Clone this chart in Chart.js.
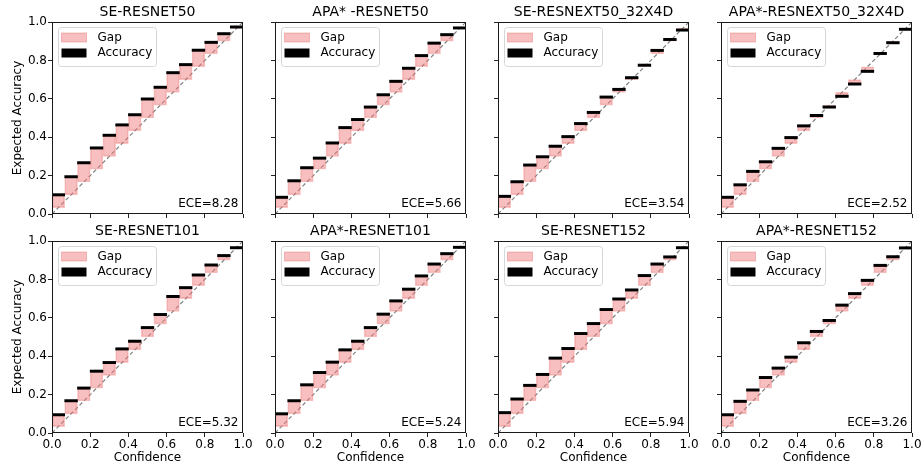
<!DOCTYPE html>
<html>
<head>
<meta charset="utf-8">
<script src="https://cdn.jsdelivr.net/npm/chart.js@4.4.0/dist/chart.umd.min.js"></script>
<style>
  html, body { margin: 0; padding: 0; background: #fff; overflow: hidden; }
  #wrap { position: relative; width: 923px; height: 468px; }
  canvas { position: absolute; }
</style>
</head>
<body>
<div id="wrap"></div>
<script>
// 15 confidence bins
const binCenters = [0.0333, 0.1, 0.1667, 0.2333, 0.3, 0.3667, 0.4333, 0.5, 0.5667, 0.6333, 0.7, 0.7667, 0.8333, 0.9, 0.9667];

const titles = ['SE-RESNET50', 'APA* -RESNET50', 'SE-RESNEXT50_32X4D', 'APA*-RESNEXT50_32X4D',
                'SE-RESNET101', 'APA*-RESNET101', 'SE-RESNET152', 'APA*-RESNET152'];
const eceValues = ['8.28', '5.66', '3.54', '2.52', '5.32', '5.24', '5.94', '3.26'];

// accuracy per bin
const accSeResnet50      = [0.100, 0.194, 0.267, 0.344, 0.410, 0.464, 0.517, 0.599, 0.660, 0.736, 0.778, 0.853, 0.894, 0.939, 0.974];
const accApaResnet50     = [0.087, 0.173, 0.241, 0.291, 0.370, 0.450, 0.492, 0.557, 0.621, 0.691, 0.759, 0.825, 0.890, 0.934, 0.969];
const accSeResnext50     = [0.092, 0.168, 0.255, 0.298, 0.353, 0.403, 0.471, 0.529, 0.609, 0.649, 0.710, 0.775, 0.852, 0.909, 0.958];
const accApaResnext50    = [0.087, 0.152, 0.222, 0.272, 0.342, 0.398, 0.459, 0.513, 0.557, 0.613, 0.677, 0.743, 0.836, 0.892, 0.962];
const accSeResnet101     = [0.095, 0.168, 0.234, 0.322, 0.367, 0.438, 0.478, 0.549, 0.617, 0.711, 0.757, 0.823, 0.875, 0.924, 0.965];
const accApaResnet101    = [0.100, 0.168, 0.251, 0.315, 0.369, 0.433, 0.478, 0.549, 0.619, 0.688, 0.749, 0.818, 0.880, 0.934, 0.967];
const accSeResnet152     = [0.106, 0.177, 0.248, 0.305, 0.390, 0.440, 0.518, 0.570, 0.643, 0.698, 0.745, 0.820, 0.880, 0.917, 0.965];
const accApaResnet152    = [0.095, 0.165, 0.224, 0.289, 0.338, 0.395, 0.470, 0.529, 0.586, 0.666, 0.726, 0.795, 0.873, 0.918, 0.964];

const accuracies = [accSeResnet50, accApaResnet50, accSeResnext50, accApaResnext50,
                    accSeResnet101, accApaResnet101, accSeResnet152, accApaResnet152];

// layout of the 2x4 grid (plot area corners)
const plotLeft = [52, 275, 498, 721];
const plotTop = [22, 241];
const PW = 191, PH = 192;
const ML = 50, MT = 22, MR = 12, MB = 34;

const GAP_FILL = 'rgba(240,128,128,0.5)';
const GAP_EDGE = 'rgba(230,90,90,0.35)';

Chart.defaults.font.family = '"DejaVu Sans", sans-serif';
Chart.defaults.font.size = 12;
Chart.defaults.color = '#000';

// axes frame, legend box and ECE label
const panelDecor = {
  id: 'panelDecor',
  afterDatasetsDraw(chart, args, opts) {
    const { ctx, chartArea: a } = chart;
    ctx.save();
    ctx.strokeStyle = '#1a1a1a';
    ctx.lineWidth = 1;
    ctx.strokeRect(a.left + 0.5, a.top + 0.5, a.width - 1, a.height - 1);

    const lx = a.left + 6, ly = a.top + 5;
    ctx.beginPath();
    if (ctx.roundRect) ctx.roundRect(lx + 0.5, ly + 0.5, 98, 39, 3);
    else ctx.rect(lx + 0.5, ly + 0.5, 98, 39);
    ctx.fillStyle = 'rgba(255,255,255,0.8)';
    ctx.fill();
    ctx.strokeStyle = '#d6d6d6';
    ctx.stroke();

    ctx.fillStyle = GAP_FILL;
    ctx.fillRect(lx + 3.5, ly + 6, 25, 9);
    ctx.strokeStyle = GAP_EDGE;
    ctx.strokeRect(lx + 3.5, ly + 6, 25, 9);
    ctx.fillStyle = '#000';
    ctx.fillRect(lx + 3.5, ly + 21.5, 25, 9);

    ctx.font = '12px "DejaVu Sans"';
    ctx.textAlign = 'left';
    ctx.textBaseline = 'middle';
    ctx.fillText('Gap', lx + 39.5, ly + 10.5);
    ctx.fillText('Accuracy', lx + 39.5, ly + 26);

    ctx.textAlign = 'right';
    ctx.fillText('ECE=' + opts.ece, a.right - 4.5, a.bottom - 10);
    ctx.restore();
  }
};

const wrap = document.getElementById('wrap');

titles.forEach((title, i) => {
  const col = i % 4, row = Math.floor(i / 4);
  const showX = row === 1, showY = col === 0;
  const acc = accuracies[i];

  const canvas = document.createElement('canvas');
  canvas.width = ML + PW + MR;
  canvas.height = MT + PH + MB;
  canvas.style.left = (plotLeft[col] - ML) + 'px';
  canvas.style.top = (plotTop[row] - MT) + 'px';
  wrap.appendChild(canvas);

  new Chart(canvas.getContext('2d'), {
    type: 'bar',
    data: {
      datasets: [{
        type: 'line',
        label: 'diagonal',
        order: 3,
        data: [{ x: 0, y: 0 }, { x: 1, y: 1 }],
        borderColor: '#808080',
        borderWidth: 1.2,
        borderDash: [4, 2.5],
        pointRadius: 0,
        fill: false
      }, {
        label: 'Gap',
        order: 2,
        data: binCenters.map((c, k) => ({ x: c, y: [c, acc[k]] })),
        backgroundColor: GAP_FILL,
        borderColor: GAP_EDGE,
        borderWidth: 1,
        borderSkipped: false,
        grouped: false,
        barPercentage: 1,
        categoryPercentage: 1
      }, {
        label: 'Accuracy',
        order: 1,
        data: binCenters.map((c, k) => ({ x: c, y: [acc[k] - 0.006, acc[k] + 0.006] })),
        backgroundColor: '#000',
        borderWidth: 0,
        grouped: false,
        barPercentage: 1,
        categoryPercentage: 1
      }]
    },
    options: {
      responsive: false,
      animation: false,
      devicePixelRatio: 1,
      layout: { padding: { left: 0, right: MR, top: 0, bottom: 0 } },
      plugins: {
        legend: { display: false },
        tooltip: { enabled: false },
        title: {
          display: true,
          text: title,
          fullSize: false,
          font: { size: 14, weight: 'normal' },
          color: '#000',
          padding: { top: 4, bottom: 1.2 }
        },
        panelDecor: { ece: eceValues[i] }
      },
      scales: {
        x: {
          type: 'linear',
          min: 0,
          max: 1,
          offset: false,
          grid: { offset: false, drawOnChartArea: false, tickLength: 4, color: '#222' },
          border: { display: false },
          ticks: {
            stepSize: 0.2,
            padding: 1,
            autoSkip: false,
            maxRotation: 0,
            callback: v => showX ? v.toFixed(1) : ''
          },
          title: { display: showX, text: 'Confidence', padding: { top: 0, bottom: 2 } },
          afterFit: s => { s.height = MB; }
        },
        y: {
          type: 'linear',
          min: 0,
          max: 1,
          grid: { drawOnChartArea: false, tickLength: 4, color: '#222' },
          border: { display: false },
          ticks: {
            stepSize: 0.2,
            padding: 1,
            autoSkip: false,
            callback: v => showY ? v.toFixed(1) : ''
          },
          title: { display: showY, text: 'Expected Accuracy', padding: { top: 9, bottom: 0 } },
          afterFit: s => { s.width = ML; }
        }
      }
    },
    plugins: [panelDecor]
  });
});
</script>
</body>
</html>
